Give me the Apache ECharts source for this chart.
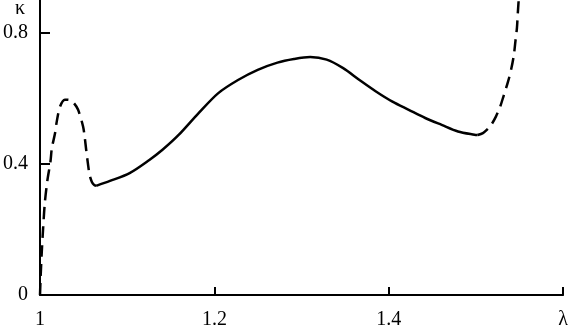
<!DOCTYPE html>
<html>
<head>
<meta charset="utf-8">
<script src="https://cdn.jsdelivr.net/npm/echarts@6/dist/echarts.min.js"></script>
<style>html,body{margin:0;padding:0;background:#fff}#c{width:571px;height:330px}</style>
</head>
<body>
<div id="c"></div>
<script>
// Left dashed branch
const lambdaLeft = [1.0, 1.0008, 1.002, 1.0035, 1.0055, 1.0085, 1.012, 1.0136, 1.0173, 1.0192, 1.023, 1.0285, 1.034, 1.039, 1.0437, 1.0494, 1.0512, 1.0531, 1.055, 1.0569, 1.0595, 1.062, 1.0644];
const kappaLeft  = [0.0, 0.06, 0.13, 0.2, 0.28, 0.35, 0.407, 0.448, 0.494, 0.529, 0.575, 0.596, 0.595, 0.585, 0.565, 0.514, 0.483, 0.44, 0.40, 0.366, 0.345, 0.336, 0.333];
// Solid branch
const lambdaMid = [1.0644, 1.0802, 1.1028, 1.1254, 1.1405, 1.1593, 1.1819, 1.2045, 1.2271, 1.2497, 1.2723, 1.2912, 1.3099, 1.3288, 1.3477, 1.3664, 1.3853, 1.4042, 1.4229, 1.4418, 1.4607, 1.4794, 1.4983, 1.502];
const kappaMid  = [0.333, 0.348, 0.372, 0.412, 0.443, 0.489, 0.555, 0.616, 0.656, 0.687, 0.709, 0.720, 0.726, 0.718, 0.692, 0.656, 0.621, 0.590, 0.565, 0.540, 0.519, 0.499, 0.489, 0.488];
// Right dashed branch
const lambdaRight = [1.502, 1.508, 1.513, 1.5175, 1.523, 1.5277, 1.532, 1.5367, 1.5405, 1.5435, 1.5455, 1.547, 1.548, 1.549];
const kappaRight  = [0.488, 0.494, 0.505, 0.519, 0.545, 0.574, 0.61, 0.65, 0.69, 0.733, 0.78, 0.815, 0.86, 0.9];
// Ticks
const xTicks = [1, 1.2, 1.4, 1.6];
const xTickLabels = ['1', '1.2', '1.4', 'λ'];
const yTicks = [0, 0.4, 0.8];
const yTickLabels = ['0', '0.4', '0.8'];
const yAxisName = 'κ';

const zip = (a, b) => a.map((v, i) => [v, b[i]]);
const font = "'Liberation Serif', 'Times New Roman', serif";
const chart = echarts.init(document.getElementById('c'), null, {renderer: 'canvas'});
const lineStyleBase = {color: '#000', width: 2.5};
chart.setOption({
  animation: false,
  backgroundColor: '#fff',
  grid: {left: 39, right: 2, top: 0, bottom: 35, containLabel: false},
  xAxis: {
    type: 'value', min: 1, max: 1.6, interval: 0.2,
    axisLine: {show: true, onZero: false, lineStyle: {color: '#000', width: 2}},
    axisTick: {show: true, inside: true, length: 8, lineStyle: {color: '#000', width: 2}, customValues: xTicks},
    axisLabel: {
      show: true, margin: 15, color: '#000', fontFamily: font, fontSize: 20,
      customValues: xTicks,
      formatter: v => { const i = xTicks.findIndex(t => Math.abs(t - v) < 1e-6); return i >= 0 ? xTickLabels[i] : ''; }
    },
    splitLine: {show: false}
  },
  yAxis: {
    type: 'value', min: 0, max: 0.9,
    axisLine: {show: true, onZero: false, lineStyle: {color: '#000', width: 2}},
    axisTick: {show: true, inside: true, length: 10, lineStyle: {color: '#000', width: 2}, customValues: yTicks},
    axisLabel: {
      show: true, margin: 12, color: '#000', fontFamily: font, fontSize: 20,
      customValues: yTicks,
      formatter: v => { const i = yTicks.findIndex(t => Math.abs(t - v) < 1e-6); return i >= 0 ? yTickLabels[i] : ''; }
    },
    splitLine: {show: false}
  },
  graphic: [{
    type: 'text', x: 20, y: 9,
    style: {text: yAxisName, fill: '#000', font: '20px ' + font, textAlign: 'center', textVerticalAlign: 'middle'}
  }],
  series: [
    {type: 'line', data: zip(lambdaLeft, kappaLeft), showSymbol: false, smooth: 0.3, clip: false,
     lineStyle: Object.assign({}, lineStyleBase, {type: [12, 7]})},
    {type: 'line', data: zip(lambdaMid, kappaMid), showSymbol: false, smooth: 0.3, clip: false,
     lineStyle: Object.assign({}, lineStyleBase, {type: 'solid'})},
    {type: 'line', data: zip(lambdaRight, kappaRight), showSymbol: false, smooth: 0.3, clip: false,
     lineStyle: Object.assign({}, lineStyleBase, {type: [12, 7]})}
  ]
});
</script>
</body>
</html>
